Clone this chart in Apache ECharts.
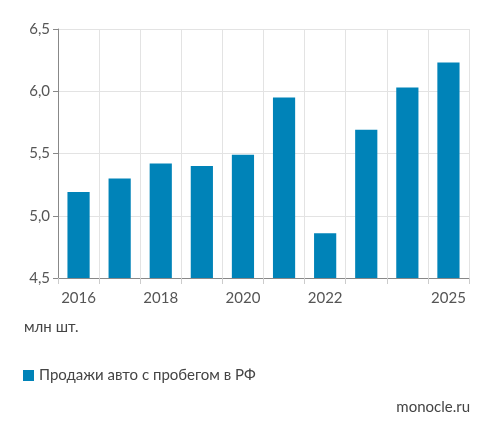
<!DOCTYPE html>
<html>
<head>
<meta charset="utf-8">
<script src="https://cdn.jsdelivr.net/npm/echarts@6/dist/echarts.min.js"></script>
<style>
    html, body { margin: 0; padding: 0; background: #fff; }
    #chart { width: 494px; height: 439px; }
</style>
</head>
<body>
<div id="chart"></div>
<script>
// годы и продажи (млн шт.)
var years = ['2016', '2017', '2018', '2019', '2020', '2021', '2022', '2023', '2024', '2025'];
var sales = [5.19, 5.30, 5.42, 5.40, 5.49, 5.95, 4.86, 5.69, 6.03, 6.23];
var shownYears = ['2016', '2018', '2020', '2022', '2025'];
var seriesName = 'Продажи авто с пробегом в РФ';

var font = 'Lato, "Noto Sans", sans-serif';
var chart = echarts.init(document.getElementById('chart'));

chart.setOption({
    animation: false,
    textStyle: { fontFamily: font },
    grid: { left: 58, right: 25, top: 29, bottom: 161 },
    legend: {
        data: [seriesName],
        left: 18, top: 363,
        icon: 'rect', itemWidth: 11, itemHeight: 11,
        textStyle: { fontSize: 15, color: '#444', fontFamily: font }
    },
    graphic: [
        { type: 'text', left: 24, top: 320, style: { text: 'млн шт.', fontSize: 15, fill: '#444', fontFamily: font } },
        { type: 'text', right: 24, top: 400, style: { text: 'monocle.ru', fontSize: 15, fill: '#444', fontFamily: font } }
    ],
    xAxis: {
        type: 'category',
        data: years,
        axisLine: { lineStyle: { color: '#888' } },
        axisTick: { show: true, length: 6, interval: 0, lineStyle: { color: '#ccc' } },
        splitLine: { show: true, interval: 0, lineStyle: { color: '#e3e3e3' } },
        axisLabel: {
            interval: 0, fontSize: 15, color: '#555', margin: 13,
            formatter: function (v) { return shownYears.indexOf(v) >= 0 ? v : ''; }
        }
    },
    yAxis: {
        type: 'value',
        min: 4.5, max: 6.5, interval: 0.5,
        axisLine: { show: true, lineStyle: { color: '#888' } },
        axisTick: { show: true, length: 5, lineStyle: { color: '#888' } },
        splitLine: { lineStyle: { color: '#e3e3e3' } },
        axisLabel: {
            fontSize: 15, color: '#555', margin: 8,
            formatter: function (v) { return v.toFixed(1).replace('.', ','); }
        }
    },
    series: [{
        name: seriesName,
        type: 'bar',
        data: sales,
        barWidth: '54%',
        itemStyle: { color: '#0083b8' }
    }]
});
</script>
</body>
</html>
